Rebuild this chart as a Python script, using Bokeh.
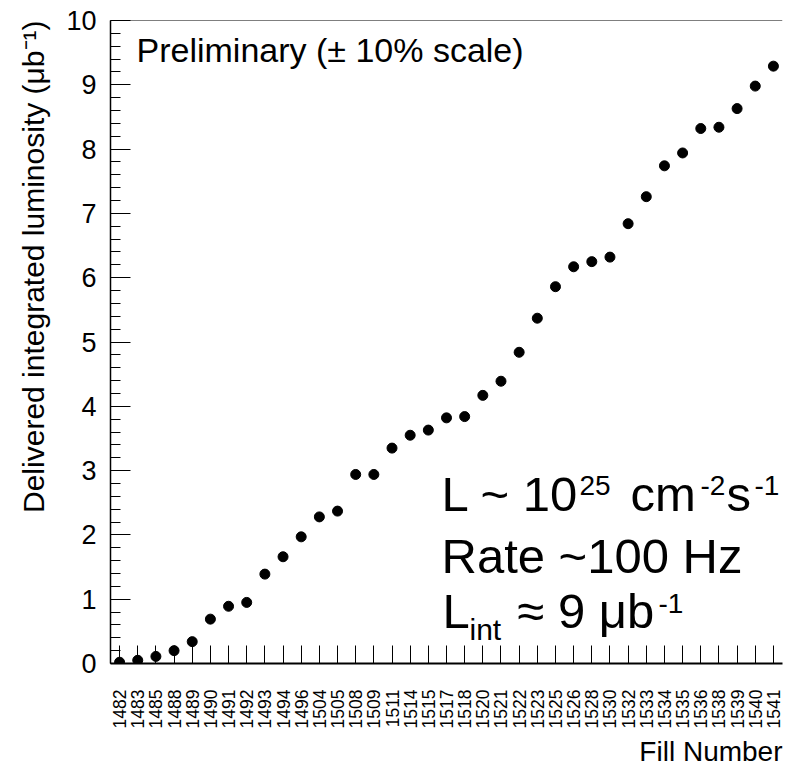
import math
from bokeh.plotting import figure
from bokeh.models import (Range1d, FactorRange, FixedTicker, Label,
                          ColumnDataSource, Title, Span)
from bokeh.embed import file_html
from bokeh.resources import INLINE

# ---- data ----
fills = ["1482", "1483", "1485", "1488", "1489", "1490", "1491", "1492", "1493",
         "1494", "1496", "1504", "1505", "1508", "1509", "1511", "1514", "1515",
         "1517", "1518", "1520", "1521", "1522", "1523", "1525", "1526", "1528",
         "1530", "1532", "1533", "1534", "1535", "1536", "1538", "1539", "1540",
         "1541"]
lumi = [0.02, 0.05, 0.11, 0.20, 0.34, 0.69, 0.89, 0.95, 1.39,
        1.66, 1.97, 2.28, 2.37, 2.94, 2.94, 3.35, 3.55, 3.63,
        3.82, 3.84, 4.17, 4.39, 4.84, 5.37, 5.86, 6.17, 6.25,
        6.32, 6.84, 7.26, 7.74, 7.94, 8.32, 8.34, 8.63, 8.98,
        9.29]
y_ticks = [0, 1, 2, 3, 4, 5, 6, 7, 8, 9, 10]
y_minor = [round(i * 0.2, 1) for i in range(51)]
y_title = "Delivered integrated luminosity (\u03bcb\u207b\u00b9)"
x_title = "Fill Number"

FONT = "Liberation Sans"

src = ColumnDataSource(data=dict(fill=fills, lumi=lumi))

p = figure(width=785, height=768,
           x_range=FactorRange(factors=fills), y_range=Range1d(0, 10),
           output_backend="svg", toolbar_location=None,
           min_border_left=110, min_border_right=3,
           min_border_top=20, min_border_bottom=105)
p.grid.visible = False
p.background_fill_color = "white"
p.border_fill_color = "white"
p.outline_line_color = None

# top frame line
p.add_layout(Span(location=y_ticks[-1], dimension="width",
                  line_color="black", line_width=1))

# y axis
yax = p.yaxis[0]
yax.ticker = FixedTicker(ticks=y_ticks, minor_ticks=y_minor)
yax.major_tick_in = 20
yax.major_tick_out = 0
yax.minor_tick_in = 10
yax.minor_tick_out = 0
yax.major_tick_line_color = "black"
yax.minor_tick_line_color = "black"
yax.axis_line_color = "black"
yax.axis_line_width = 1.5
yax.major_label_text_font = FONT
yax.major_label_text_font_size = "27px"
yax.major_label_text_color = "black"
yax.major_label_standoff = 14

# x axis
xax = p.xaxis[0]
xax.major_tick_in = 18
xax.major_tick_out = 0
xax.major_tick_line_color = "black"
xax.axis_line_color = "black"
xax.axis_line_width = 2
xax.major_label_orientation = math.pi / 2
xax.major_label_text_font = FONT
xax.major_label_text_font_size = "17.5px"
xax.major_label_text_color = "black"
xax.major_label_standoff = 26

# axis titles, aligned to the far end of each axis
p.add_layout(Title(text=y_title, align="right", text_font=FONT,
                   text_font_size="30px", text_font_style="normal",
                   text_color="black", standoff=27), "left")
p.add_layout(Title(text=x_title, align="right", text_font=FONT,
                   text_font_size="28px", text_font_style="normal",
                   text_color="black", standoff=4), "below")

p.scatter(x="fill", y="lumi", source=src, size=10,
          fill_color="black", line_color="black", marker="circle")


def add_text(txt, xo, yo, size):
    p.add_layout(Label(x=0, y=0, x_units="data", y_units="data",
                       x_offset=xo, y_offset=yo, text=txt,
                       text_font=FONT, text_font_size=size,
                       text_color="black", text_align="left",
                       text_baseline="middle"))


# offsets are in pixels from the frame's bottom-left corner (text middle)
add_text("Preliminary (\u00b1 10% scale)", 26, 614, "34px")

# L ~ 10^25 cm^-2 s^-1
add_text("L ~ 10", 331, 170, "49px")
add_text("25", 469, 178, "28px")
add_text("cm", 520, 170, "49px")
add_text("-2", 590, 178, "28px")
add_text("s", 616, 170, "49px")
add_text("-1", 644, 178, "28px")

# Rate ~100 Hz
add_text("Rate ~100 Hz", 331, 108, "49px")

# L_int ~ 9 ub^-1
add_text("L", 332, 53, "49px")
add_text("int", 359, 34, "30px")
add_text("\u2248 9 \u03bcb", 407, 53, "49px")
add_text("-1", 548, 60, "28px")

open("out.html", "w").write(file_html(p, INLINE))
